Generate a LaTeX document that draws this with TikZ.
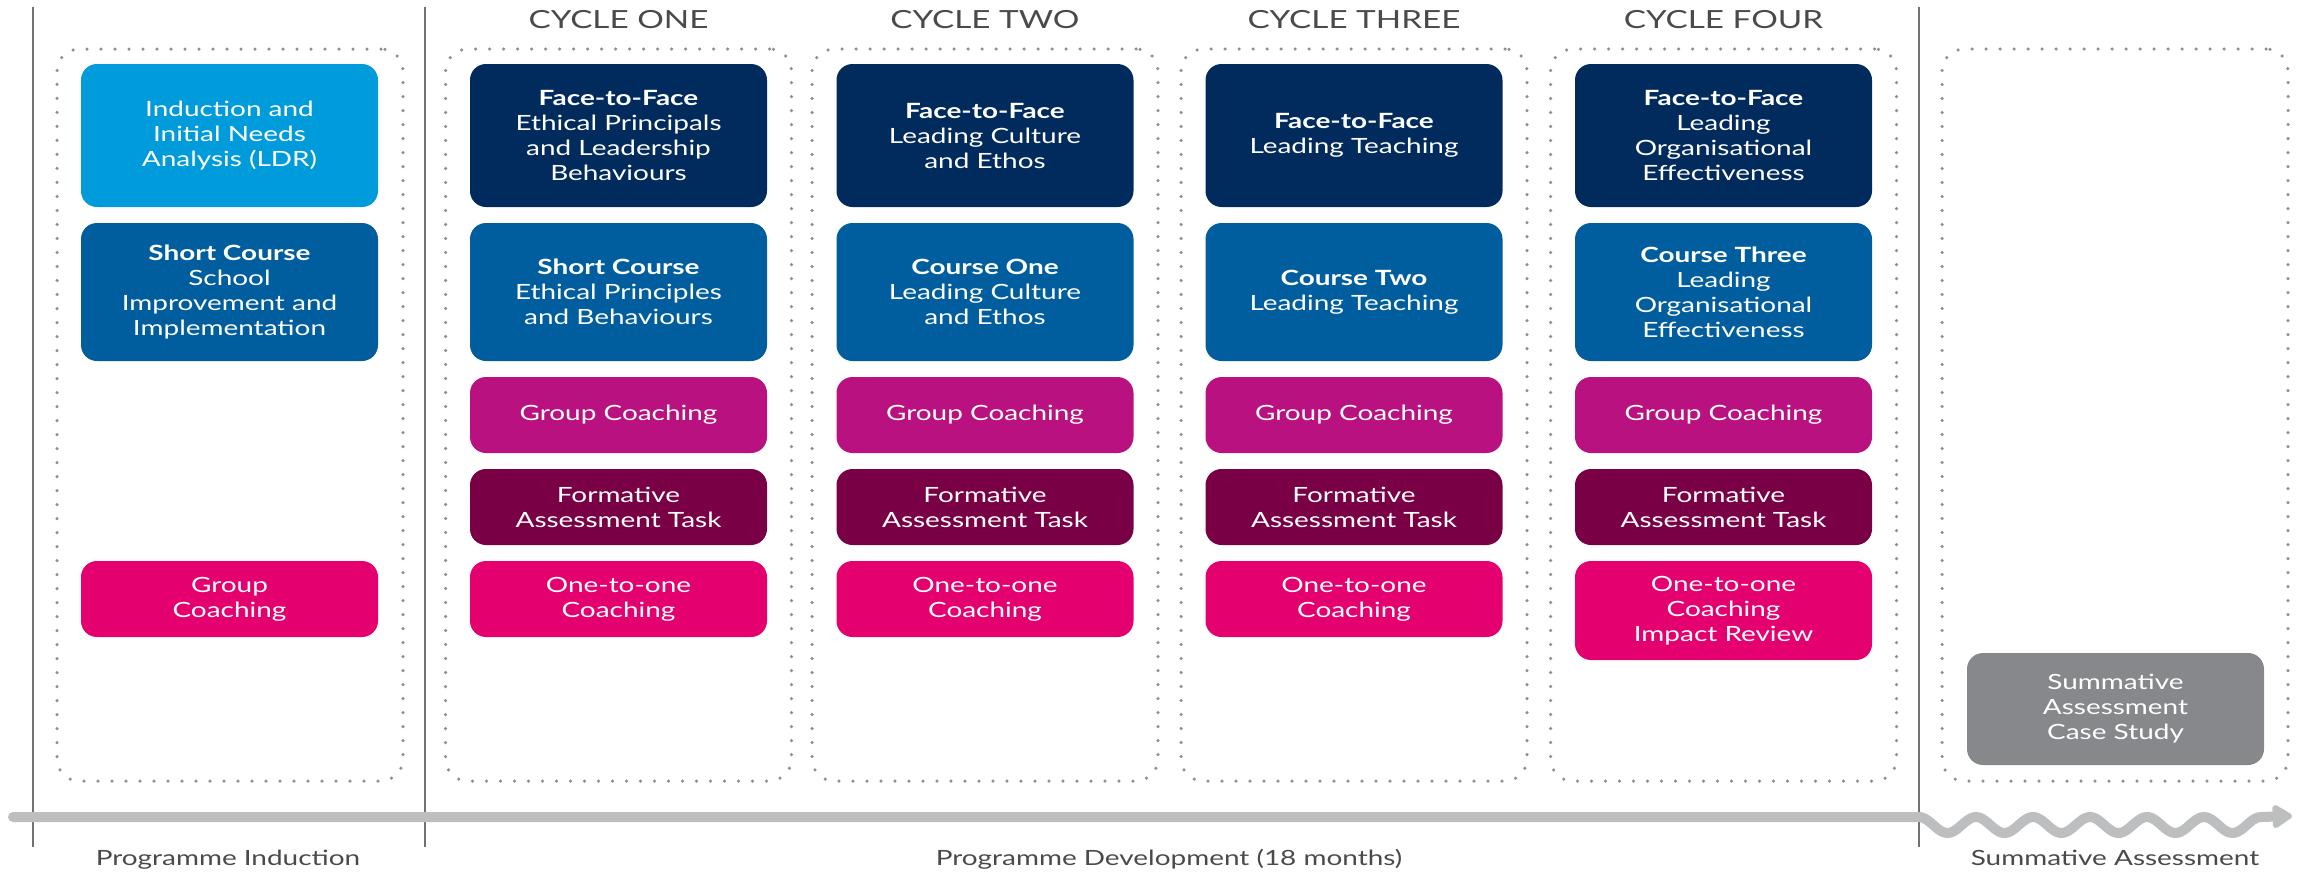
\documentclass[tikz,border=0pt]{standalone}
\usepackage{fontspec}
\setmainfont{Lato}[FakeStretch=1.33]
\usetikzlibrary{arrows.meta}
\definecolor{lightblue}{HTML}{009BDB}
\definecolor{navy}{HTML}{012B5D}
\definecolor{medblue}{HTML}{005E9E}
\definecolor{magenta}{HTML}{BA1180}
\definecolor{maroon}{HTML}{7A0046}
\definecolor{pinkc}{HTML}{E5006F}
\definecolor{greybox}{HTML}{86888B}
\definecolor{dotgrey}{HTML}{8C8F93}
\definecolor{linegrey}{HTML}{707173}
\definecolor{arrowgrey}{HTML}{BCBEC0}
\definecolor{headtext}{HTML}{4A4A4C}
\tikzset{
  box/.style={rectangle, rounded corners=16pt, minimum width=297pt, inner sep=0pt,
    text=white, align=center, font=\fontsize{21}{25}\selectfont},
  dotbox/.style={rectangle, rounded corners=22pt, draw=dotgrey, line width=3.5pt,
    dash pattern=on 0pt off 14pt, line cap=round, minimum width=346pt, minimum height=732pt, inner sep=0pt},
  divider/.style={draw=linegrey, line width=2pt},
  header/.style={text=headtext, font=\fontsize{25}{28}\selectfont, anchor=base},
  footer/.style={text=headtext, font=\fontsize{21}{24}\selectfont, anchor=base},
  timeline/.style={draw=arrowgrey, line width=10pt, line cap=round}
}
\begin{document}
\begin{tikzpicture}[x=1pt,y=-1pt]
\useasboundingbox (0,0) rectangle (2303,871);

% dividers
\coordinate (v0t) at (33,7);   \coordinate (v0b) at (33,847);
\coordinate (v1t) at (425,7);  \coordinate (v1b) at (425,847);
\coordinate (v2t) at (1919,7); \coordinate (v2b) at (1919,847);
\draw[divider] (v0t) -- (v0b);
\draw[divider] (v1t) -- (v1b);
\draw[divider] (v2t) -- (v2b);

% dotted column frames
\node[dotbox] (d0) at (230,415) {};
\node[dotbox] (d1) at (618.5,415) {};
\node[dotbox] (d2) at (985,415) {};
\node[dotbox] (d3) at (1354,415) {};
\node[dotbox] (d4) at (1723.5,415) {};
\node[dotbox] (d5) at (2115,415) {};

% headers
\node[header] (h1) at (618.5,28) {CYCLE ONE};
\node[header] (h2) at (985,28) {CYCLE TWO};
\node[header] (h3) at (1354,28) {CYCLE THREE};
\node[header] (h4) at (1723.5,28) {CYCLE FOUR};

% column 0
\node[box, fill=lightblue, minimum height=143pt] (ind) at (229.5,135.5) {Induction and\\Initial Needs\\Analysis (LDR)};
\node[box, fill=medblue, minimum height=138pt] (sc0) at (229.5,292) {\textbf{Short Course}\\School\\Improvement and\\Implementation};
\node[box, fill=pinkc, minimum height=76pt] (gc0) at (229.5,599) {Group\\Coaching};

% column 1
\node[box, fill=navy, minimum height=143pt] (f1) at (618.5,135.5) {\textbf{Face-to-Face}\\Ethical Principals\\and Leadership\\Behaviours};
\node[box, fill=medblue, minimum height=138pt] (s1) at (618.5,292) {\textbf{Short Course}\\Ethical Principles\\and Behaviours};
\node[box, fill=magenta, minimum height=76pt] (g1) at (618.5,415) {Group Coaching};
\node[box, fill=maroon, minimum height=76pt] (a1) at (618.5,507) {Formative\\Assessment Task};
\node[box, fill=pinkc, minimum height=76pt] (o1) at (618.5,599) {One-to-one\\Coaching};

% column 2
\node[box, fill=navy, minimum height=143pt] (f2) at (985,135.5) {\textbf{Face-to-Face}\\Leading Culture\\and Ethos};
\node[box, fill=medblue, minimum height=138pt] (s2) at (985,292) {\textbf{Course One}\\Leading Culture\\and Ethos};
\node[box, fill=magenta, minimum height=76pt] (g2) at (985,415) {Group Coaching};
\node[box, fill=maroon, minimum height=76pt] (a2) at (985,507) {Formative\\Assessment Task};
\node[box, fill=pinkc, minimum height=76pt] (o2) at (985,599) {One-to-one\\Coaching};

% column 3
\node[box, fill=navy, minimum height=143pt] (f3) at (1354,135.5) {\textbf{Face-to-Face}\\Leading Teaching};
\node[box, fill=medblue, minimum height=138pt] (s3) at (1354,292) {\textbf{Course Two}\\Leading Teaching};
\node[box, fill=magenta, minimum height=76pt] (g3) at (1354,415) {Group Coaching};
\node[box, fill=maroon, minimum height=76pt] (a3) at (1354,507) {Formative\\Assessment Task};
\node[box, fill=pinkc, minimum height=76pt] (o3) at (1354,599) {One-to-one\\Coaching};

% column 4
\node[box, fill=navy, minimum height=143pt] (f4) at (1723.5,135.5) {\textbf{Face-to-Face}\\Leading\\Organisational\\Effectiveness};
\node[box, fill=medblue, minimum height=138pt] (s4) at (1723.5,292) {\textbf{Course Three}\\Leading\\Organisational\\Effectiveness};
\node[box, fill=magenta, minimum height=76pt] (g4) at (1723.5,415) {Group Coaching};
\node[box, fill=maroon, minimum height=76pt] (a4) at (1723.5,507) {Formative\\Assessment Task};
\node[box, fill=pinkc, minimum height=99pt] (o4) at (1723.5,610.5) {One-to-one\\Coaching\\Impact Review};

% column 5
\node[box, fill=greybox, minimum height=112pt] (sum) at (2115.5,709) {Summative\\Assessment\\Case Study};

% timeline
\coordinate (tstart) at (13,817);
\coordinate (tmid) at (1919,817);
\coordinate (tend) at (2261,817);
\coordinate (ttip) at (2292,816);
\draw[timeline] (tstart) -- (tmid)
  plot[domain=0:342, samples=120, smooth] ({\x+1919},{817+8*(1-cos(6.3158*\x))});
\draw[draw=arrowgrey, line width=10pt, -{Triangle[length=22pt,width=26pt,round]}] (tend) -- (ttip);

% footers
\node[footer] (l1) at (228,865) {Programme Induction};
\node[footer] (l2) at (1169,865) {Programme Development (18 months)};
\node[footer] (l3) at (2115,865) {Summative Assessment};
\end{tikzpicture}
\end{document}
